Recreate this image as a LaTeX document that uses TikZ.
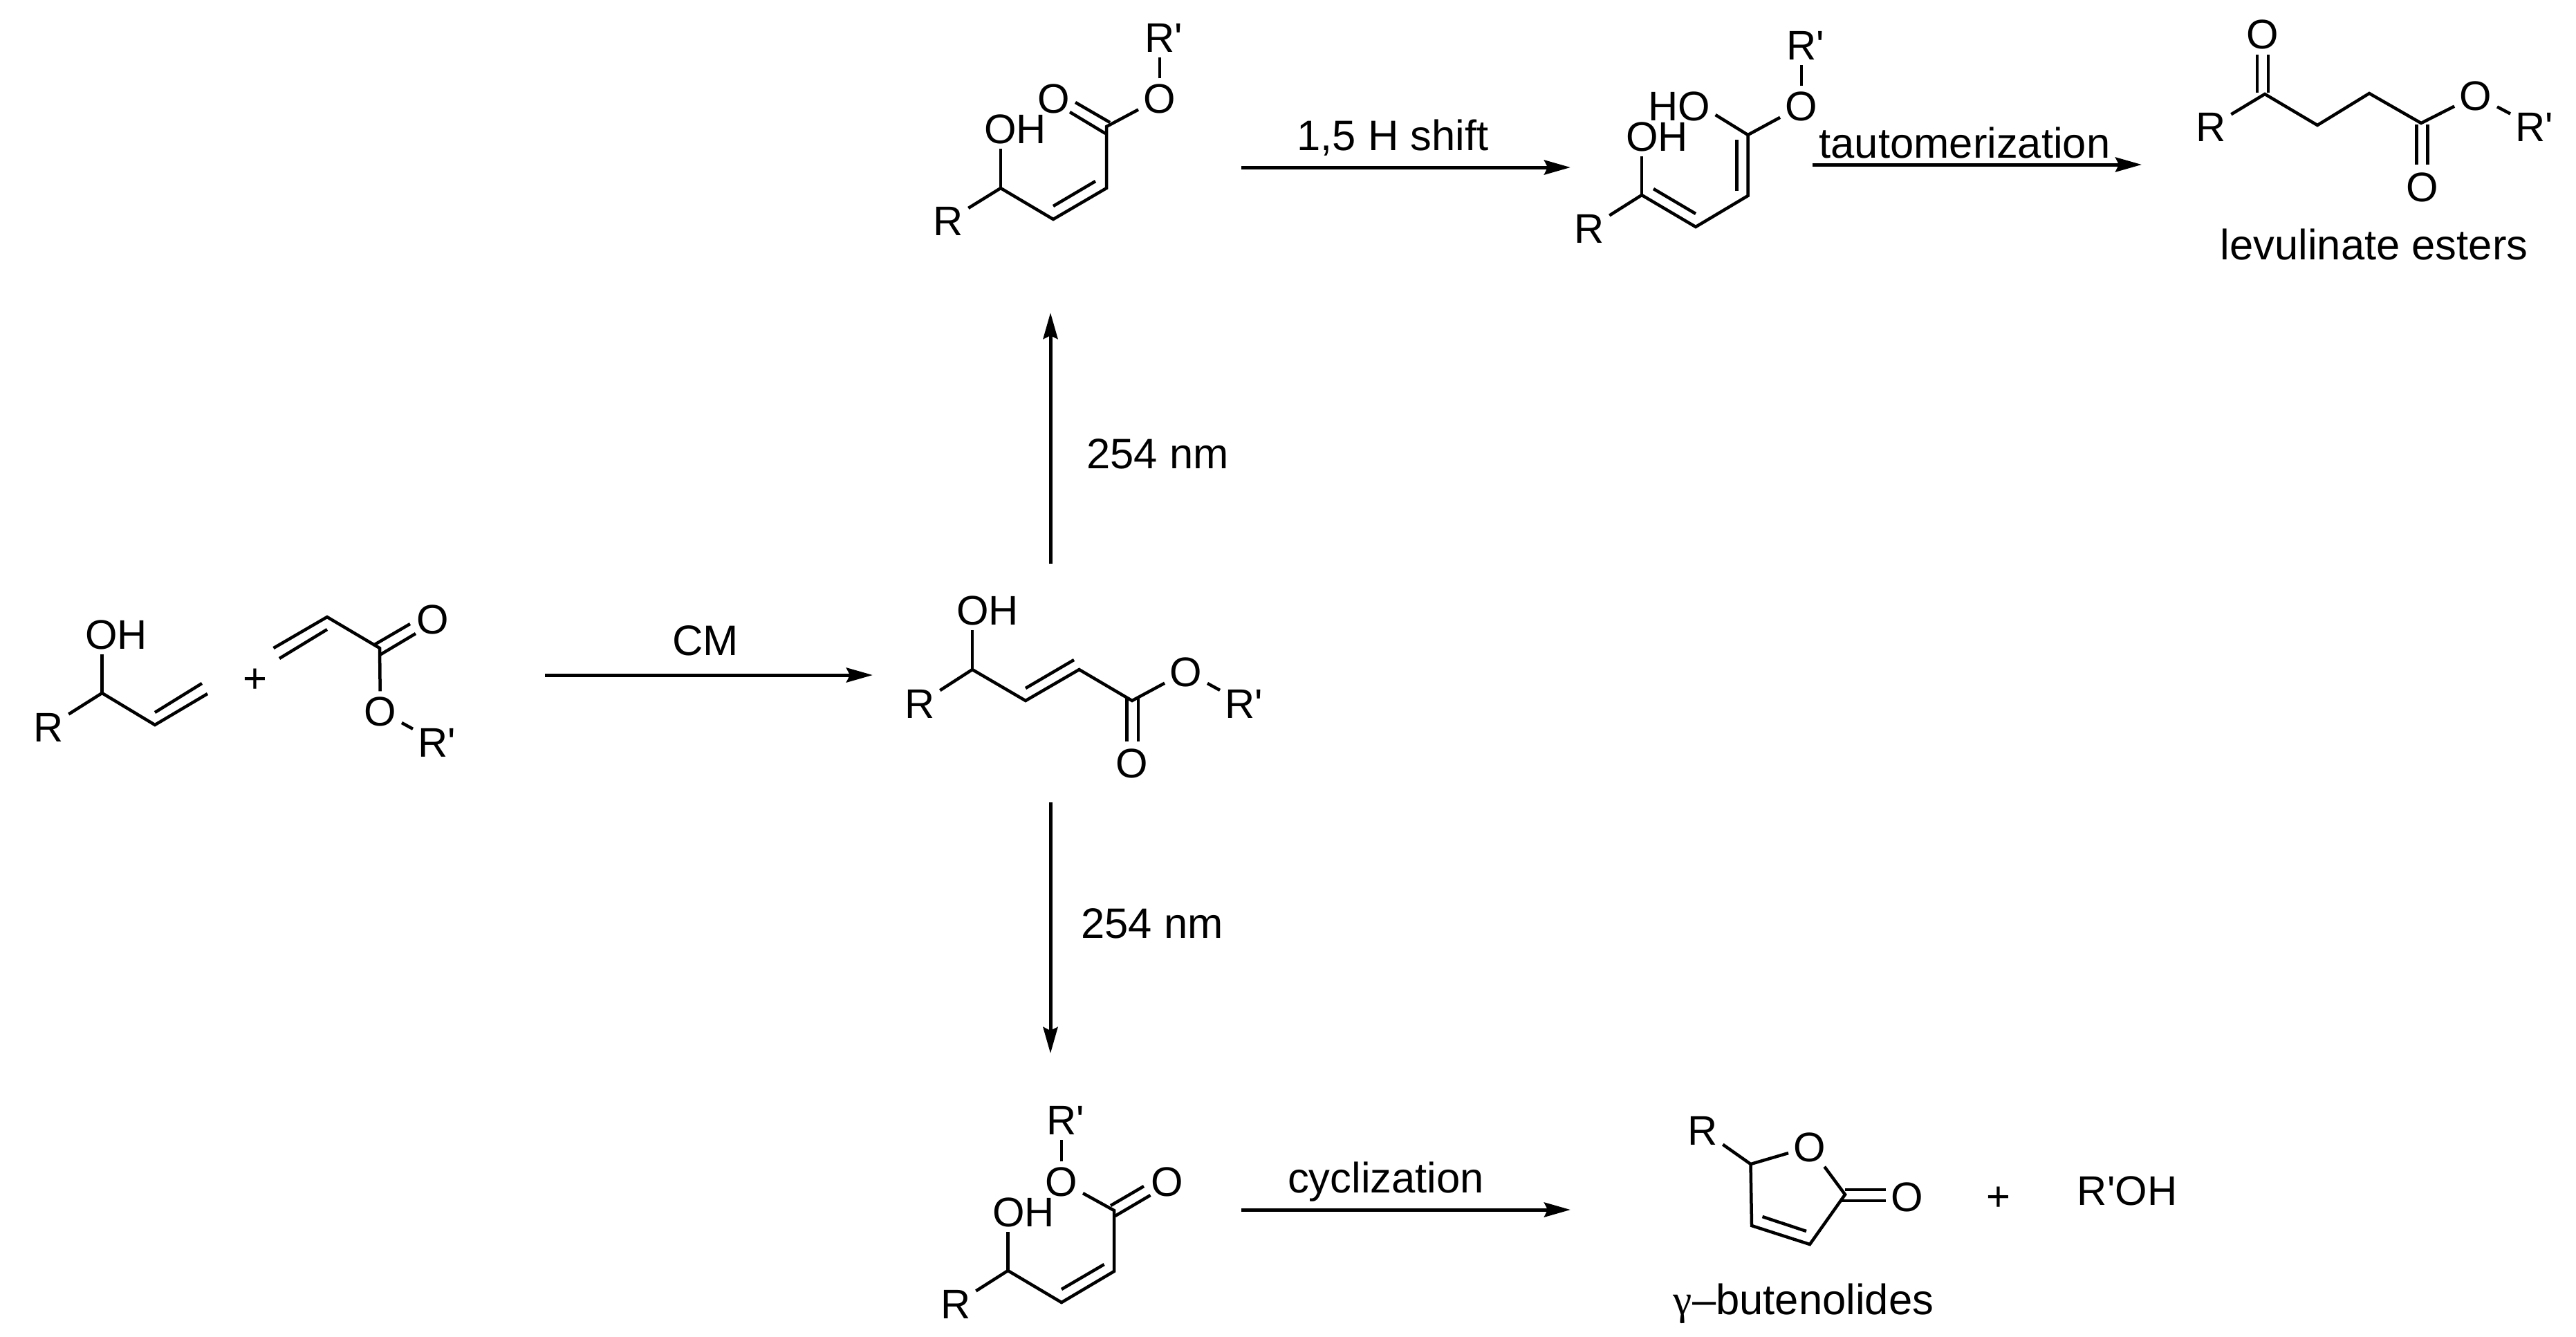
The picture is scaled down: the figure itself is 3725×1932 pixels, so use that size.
\documentclass[tikz,border=0pt]{standalone}
\usepackage{fontspec}
\setmainfont[Ligatures=TeXOff]{Liberation Sans}
\newfontfamily\greekfont{Liberation Serif}
\usetikzlibrary{arrows.meta}
\tikzset{
  atom/.style={inner sep=0.07cm, text height=0.42cm, text depth=0pt, font=\fontsize{17}{20}\selectfont},
  lab/.style={inner sep=0pt, anchor=base, font=\fontsize{17.5}{20}\selectfont},
  bond/.style={line width=0.045cm, line join=miter},
  rxn/.style={line width=0.05cm, -{Stealth[length=0.38cm, width=0.21cm, inset=0.05cm]}}
}
\begin{document}
\begin{tikzpicture}[x=0.01cm, y=-0.01cm]
\useasboundingbox (0, 0) rectangle (3725, 1932);
\foreach \n/\x/\y in {cmL/788/976, cmR/1262/976, upL/1519/815, upR/1519/452, dnL/1519/1160, dnR/1519/1523, shL/1795/242, shR/2271/242, taL/2621/238, taR/3097/238, cyL/1795/1749, cyR/2271/1749}{\coordinate (\n) at (\x, \y);}
\draw [rxn] (cmL) -- (cmR);
\draw [rxn] (upL) -- (upR);
\draw [rxn] (dnL) -- (dnR);
\draw [rxn] (shL) -- (shR);
\draw [rxn] (taL) -- (taR);
\draw [rxn] (cyL) -- (cyR);
\node [lab] (cmText) at (1020, 947) {CM};
\node [lab] (upText) at (1674, 677) {254 nm};
\node [lab] (dnText) at (1666, 1356) {254 nm};
\node [lab] (shText) at (2014, 217) {1,5 H shift};
\node [lab] (taText) at (2841, 228) {tautomerization};
\node [lab] (cyText) at (2004, 1724) {cyclization};
\node [lab] (leText) at (3433, 375) {levulinate esters};
\node [lab] (buText) at (2608, 1900) {{\greekfont γ}–butenolides};
\node [atom] (plusA) at (369, 980) {+};
\node [atom] (plusB) at (2890, 1729) {+};
\node [atom] (rohG) at (3076, 1721) {R'OH};

% allyl alcohol and acrylate
\foreach \n/\x/\y in {a1/147.6/1002, a2/224/1048, a3/300/1003, a2i/224/1030, a3i/292/988, a4/404/952, a5/473/910, a6/473/892, a7/395.5/937, a8/549/937, a9/541.5/932, a10/593/902, a11/549/947, a12/601/916}{\coordinate (\n) at (\x, \y);}
\node [atom] (aOH) at (168, 917) {OH};
\node [atom] (aR) at (70, 1051) {R};
\node [atom] (aO1) at (626, 895) {O};
\node [atom] (aO2) at (550, 1028) {O};
\node [atom] (aRp) at (632, 1073) {R'};
\draw [bond] (aR) -- (a1) -- (a2) -- (a3);
\draw [bond] (a1) -- (aOH.south -| a1);
\draw [bond] (a2i) -- (a3i);
\draw [bond] (a7) -- (a6) -- (a8) -- (aO2);
\draw [bond] (a4) -- (a5);
\draw [bond] (a9) -- (a10);
\draw [bond] (a11) -- (a12);
\draw [bond] (aO2) -- (aRp);

% trans ester
\foreach \n/\x/\y in {b1/1406/968, b2/1483/1013, b3/1560.5/968, b4/1637/1013, b2i/1483/995, b3i/1553/954, b5/1629.5/1008, b6/1629.5/1072, b7/1646/1008, b8/1646/1072}{\coordinate (\n) at (\x, \y);}
\node [atom] (bOH) at (1428, 882) {OH};
\node [atom] (bR) at (1330, 1017) {R};
\node [atom] (bO1) at (1715, 971) {O};
\node [atom] (bO2) at (1637, 1103) {O};
\node [atom] (bRp) at (1799, 1017) {R'};
\draw [bond] (bR) -- (b1) -- (b2) -- (b3) -- (b4) -- (bO1);
\draw [bond] (b1) -- (bOH.south -| b1);
\draw [bond] (b2i) -- (b3i);
\draw [bond] (b5) -- (b6);
\draw [bond] (b7) -- (b8);
\draw [bond] (bO1) -- (bRp);

% cis ester, top
\foreach \n/\x/\y in {c1/1447/272, c2/1523/317, c3/1600/272, c4/1600/183, c2i/1523/298, c3i/1584/262, c5/1555/148, c6/1605/177, c7/1547/162, c8/1598.5/193}{\coordinate (\n) at (\x, \y);}
\node [atom] (cOH) at (1468, 186) {OH};
\node [atom] (cR) at (1371, 319) {R};
\node [atom] (cO1) at (1524, 142) {O};
\node [atom] (cO2) at (1677, 142) {O};
\node [atom] (cRp) at (1683, 54) {R'};
\draw [bond] (cR) -- (c1) -- (c2) -- (c3) -- (c4) -- (cO2);
\draw [bond] (c1) -- (cOH.south -| c1);
\draw [bond] (c2i) -- (c3i);
\draw [bond] (c5) -- (c6);
\draw [bond] (c7) -- (c8);
\draw [bond] (cO2) -- (cRp.south -| cO2);

% dienol
\foreach \n/\x/\y in {d1/2374/282, d2/2452/328, d3/2527.5/283, d4/2527.5/195, d1i/2391/273, d2i/2452/309, d3i/2511.5/276, d4i/2511.5/202}{\coordinate (\n) at (\x, \y);}
\node [atom] (dOH) at (2396, 197) {OH};
\node [atom] (dHO) at (2428, 153) {HO};
\node [atom] (dR) at (2298, 330) {R};
\node [atom] (dO) at (2605, 153) {O};
\node [atom] (dRp) at (2611, 65) {R'};
\draw [bond] (dR) -- (d1) -- (d2) -- (d3) -- (d4) -- (dO);
\draw [bond] (d1) -- (dOH.south -| d1);
\draw [bond] (d1i) -- (d2i);
\draw [bond] (d3i) -- (d4i);
\draw [bond] (d4) -- ([yshift=-0.13cm]dHO.east);
\draw [bond] (dO) -- (dRp.south -| dO);

% levulinate
\foreach \n/\x/\y in {e1/3275/136, e2/3351/181, e3/3426/135, e4/3501/178, e5/3264/79, e6/3264/134, e7/3280/79, e8/3280/134, e9/3494.5/180, e10/3494.5/238, e11/3510.5/180, e12/3510.5/238}{\coordinate (\n) at (\x, \y);}
\node [atom] (eR) at (3197, 183) {R};
\node [atom] (eO1) at (3272, 49) {O};
\node [atom] (eO2) at (3580, 138) {O};
\node [atom] (eO3) at (3503, 270) {O};
\node [atom] (eRp) at (3665, 183) {R'};
\draw [bond] (eR) -- (e1) -- (e2) -- (e3) -- (e4) -- (eO2);
\draw [bond] (e5) -- (e6);
\draw [bond] (e7) -- (e8);
\draw [bond] (e9) -- (e10);
\draw [bond] (e11) -- (e12);
\draw [bond] (eO2) -- (eRp);

% cis ester, bottom
\foreach \n/\x/\y in {f1/1457.5/1837, f2/1535/1883, f3/1611/1838, f4/1611/1750, f2i/1535/1864, f3i/1596.6/1828, f5/1606/1743, f6/1654/1715, f7/1612.5/1758, f8/1663.5/1728}{\coordinate (\n) at (\x, \y);}
\node [atom] (fOH) at (1480, 1752) {OH};
\node [atom] (fR) at (1382, 1885) {R};
\node [atom] (fO1) at (1535, 1708) {O};
\node [atom] (fO2) at (1688, 1708) {O};
\node [atom] (fRp) at (1541, 1619) {R'};
\draw [bond] (fR) -- (f1) -- (f2) -- (f3) -- (f4) -- (fO1);
\draw [bond] (f1) -- (fOH.south -| f1);
\draw [bond] (f2i) -- (f3i);
\draw [bond] (f5) -- (f6);
\draw [bond] (f7) -- (f8);
\draw [bond] (fO1) -- (fRp.south -| fO1);

% butenolide
\foreach \n/\x/\y in {g1/2531.5/1683, g2/2533/1772, g3/2617/1799, g4/2668/1727, g2i/2548.5/1759, g3i/2612/1780, g5/2668/1720, g6/2727/1720, g7/2663/1736, g8/2727/1736}{\coordinate (\n) at (\x, \y);}
\node [atom] (gR) at (2462, 1634) {R};
\node [atom] (gO1) at (2617, 1658) {O};
\node [atom] (gO2) at (2758, 1730) {O};
\draw [bond] (gR) -- (g1) -- (gO1) -- (g4) -- (g3) -- (g2) -- (g1);
\draw [bond] (g2i) -- (g3i);
\draw [bond] (g5) -- (g6);
\draw [bond] (g7) -- (g8);
\end{tikzpicture}
\end{document}
